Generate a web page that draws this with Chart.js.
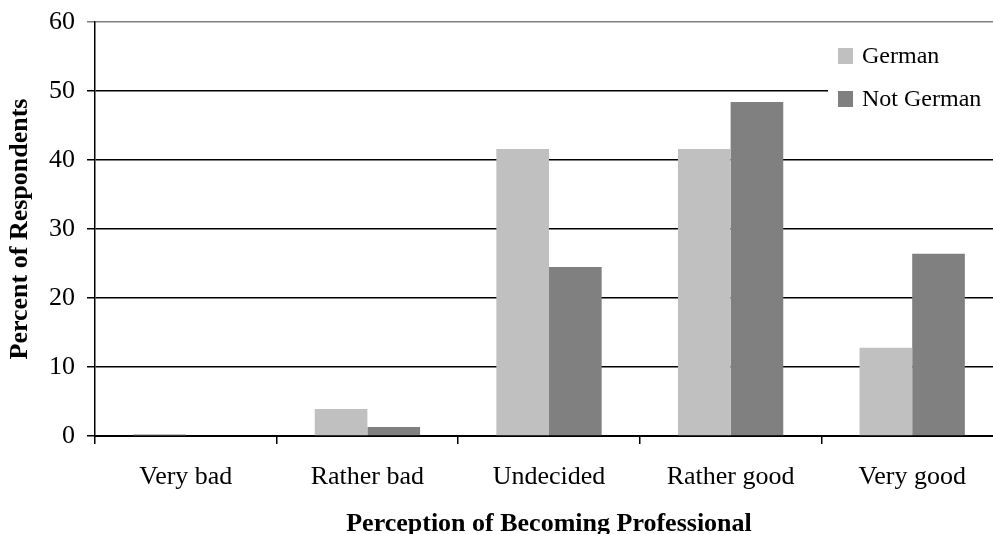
<!DOCTYPE html>
<html>
<head>
<meta charset="utf-8">
<script src="https://cdn.jsdelivr.net/npm/chart.js@4/dist/chart.umd.min.js"></script>
<style>
  html, body { margin: 0; padding: 0; background: #fff; overflow: hidden; }
  #wrap { width: 1003px; height: 534px; }
</style>
</head>
<body>
<div id="wrap"><canvas id="chart" width="1003" height="534"></canvas></div>
<script>
// chart data
const categories = ['Very bad', 'Rather bad', 'Undecided', 'Rather good', 'Very good'];
const germanValues = [0.3, 3.9, 41.6, 41.6, 12.8];
const notGermanValues = [0, 1.3, 24.5, 48.4, 26.4];
const yTicks = [0, 10, 20, 30, 40, 50, 60];

const serif = '"Liberation Serif", "Times New Roman", serif';

// legend drawn inside the plot, on a white box over the gridlines
const boxLegend = {
  id: 'boxLegend',
  afterDraw(chart) {
    const ctx = chart.ctx;
    const area = chart.chartArea;
    const x = area.right - 165;
    const y = area.top + 26;
    ctx.save();
    ctx.fillStyle = '#fff';
    ctx.fillRect(x - 10, y - 12, 200, 80);
    ctx.font = '24px ' + serif;
    ctx.textBaseline = 'middle';
    chart.data.datasets.forEach((ds, i) => {
      const rowY = y + i * 43;
      ctx.fillStyle = ds.backgroundColor;
      ctx.fillRect(x, rowY, 15, 16);
      ctx.fillStyle = '#000';
      ctx.fillText(ds.label, x + 24, rowY + 9);
    });
    ctx.restore();
  }
};

new Chart(document.getElementById('chart').getContext('2d'), {
  type: 'bar',
  data: {
    labels: categories,
    datasets: [
      {
        label: 'German',
        data: germanValues,
        backgroundColor: '#c0c0c0',
        borderWidth: 0,
      },
      {
        label: 'Not German',
        data: notGermanValues,
        backgroundColor: '#808080',
        borderWidth: 0,
      },
    ],
  },
  options: {
    responsive: false,
    animation: false,
    devicePixelRatio: 1,
    layout: { padding: { top: 22, left: 0, right: 0, bottom: 0 } },
    categoryPercentage: 0.58,
    barPercentage: 1.0,
    plugins: {
      legend: { display: false },
      tooltip: { enabled: false },
    },
    scales: {
      x: {
        grid: {
          offset: true,
          drawOnChartArea: false,
          drawTicks: true,
          tickLength: 8,
          color: '#000',
          lineWidth: 1.5,
        },
        border: { display: true, color: '#000', width: 2 },
        ticks: {
          color: '#000',
          padding: 18,
          font: { family: serif, size: 26 },
        },
        title: {
          display: true,
          text: 'Perception of Becoming Professional',
          color: '#000',
          font: { family: serif, size: 26, weight: 'bold' },
          padding: { top: 0, bottom: -6 },
        },
        afterFit(scale) {
          scale.height = 98;
          scale.paddingLeft = 0;
          scale.paddingRight = 0;
        },
      },
      y: {
        min: 0,
        max: 60,
        afterBuildTicks(scale) { scale.ticks = yTicks.map(v => ({ value: v })); },
        grid: {
          color: ctx => (ctx.tick && ctx.tick.value === 60 ? '#808080' : '#000'),
          lineWidth: 1.5,
          tickLength: 8,
        },
        border: { display: true, color: '#000', width: 1.5 },
        ticks: {
          color: '#000',
          padding: 12,
          font: { family: serif, size: 26 },
        },
        title: {
          display: true,
          text: 'Percent of Respondents',
          color: '#000',
          font: { family: serif, size: 26, weight: 'bold' },
          padding: { top: 5, bottom: 0 },
        },
        afterFit(scale) {
          scale.width = 95;
          scale.paddingTop = 0;
          scale.paddingBottom = 0;
        },
      },
    },
  },
  plugins: [boxLegend],
});
</script>
</body>
</html>
